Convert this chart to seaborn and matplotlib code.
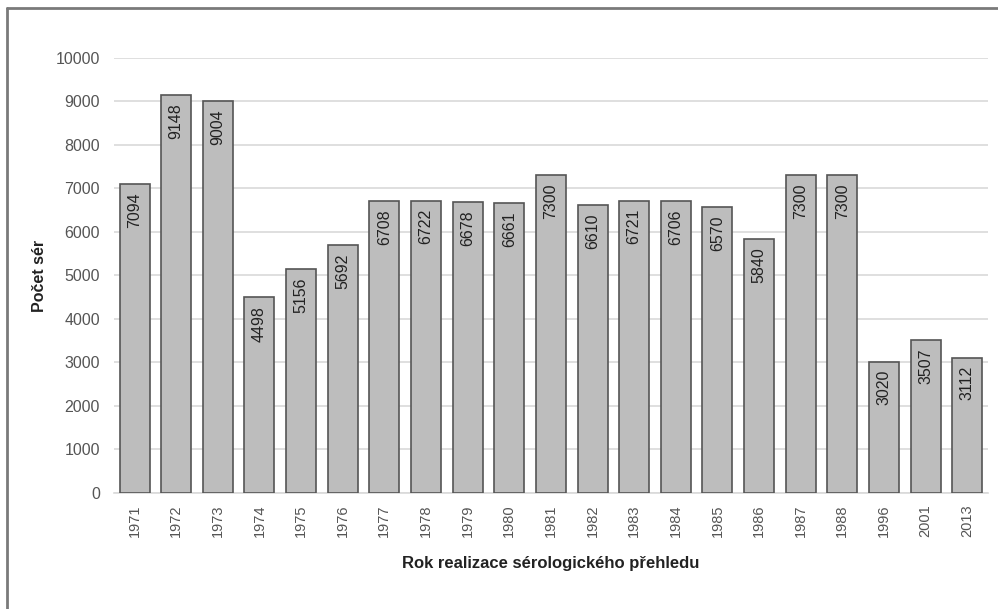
import matplotlib
matplotlib.use("Agg")
import matplotlib.pyplot as plt
from matplotlib.lines import Line2D
import seaborn as sns
import pandas as pd

years = ["1971", "1972", "1973", "1974", "1975", "1976", "1977", "1978", "1979",
         "1980", "1981", "1982", "1983", "1984", "1985", "1986", "1987", "1988",
         "1996", "2001", "2013"]
counts = [7094, 9148, 9004, 4498, 5156, 5692, 6708, 6722, 6678,
          6661, 7300, 6610, 6721, 6706, 6570, 5840, 7300, 7300,
          3020, 3507, 3112]
y_ticks = [0, 1000, 2000, 3000, 4000, 5000, 6000, 7000, 8000, 9000, 10000]

df = pd.DataFrame({"rok": years, "pocet": counts})

sns.set_theme(style="white")
plt.rcParams["font.family"] = ["Liberation Sans", "DejaVu Sans"]

fig = plt.figure(figsize=(9.98, 6.09), dpi=100)
ax = fig.add_axes([0.114, 0.1905, 0.876, 0.7143])

sns.barplot(data=df, x="rok", y="pocet", order=years, color="#bdbdbd",
            width=0.72, edgecolor="#555555", linewidth=1.2, saturation=1,
            ax=ax, zorder=3)

ax.set_ylim(0, 10000)
ax.set_xlim(-0.5, len(years) - 0.5)
ax.set_yticks(y_ticks)
ax.yaxis.grid(True, color="#d9d9d9", linewidth=1.2, zorder=0)
ax.set_axisbelow(True)

for s in ["left", "right", "top"]:
    ax.spines[s].set_visible(False)
ax.spines["bottom"].set_color("#d9d9d9")
ax.spines["bottom"].set_linewidth(1.2)

ax.tick_params(axis="y", length=0, pad=10, labelsize=11.5, labelcolor="#555555")
ax.tick_params(axis="x", length=0, pad=8, labelsize=10.5, labelcolor="#555555",
               rotation=90)

ax.set_xlabel("Rok realizace sérologického přehledu", fontsize=12,
              fontweight="bold", color="#222222", labelpad=14)
ax.set_ylabel("Počet sér", fontsize=11.5, fontweight="bold", color="#222222",
              labelpad=6)

for i, v in enumerate(counts):
    ax.annotate(str(v), xy=(i, v), xytext=(0, -6), textcoords="offset points",
                rotation=90, ha="center", va="top", fontsize=11.5,
                color="#222222", zorder=4)

# outer frame on the left and top edges
fig.add_artist(Line2D([7 / 998, 7 / 998], [0, 1 - 8 / 609],
                      transform=fig.transFigure, color="#7a7a7a", linewidth=2))
fig.add_artist(Line2D([7 / 998, 1], [1 - 8 / 609, 1 - 8 / 609],
                      transform=fig.transFigure, color="#7a7a7a", linewidth=2))

fig.savefig("out.png", dpi=100, facecolor="white")
